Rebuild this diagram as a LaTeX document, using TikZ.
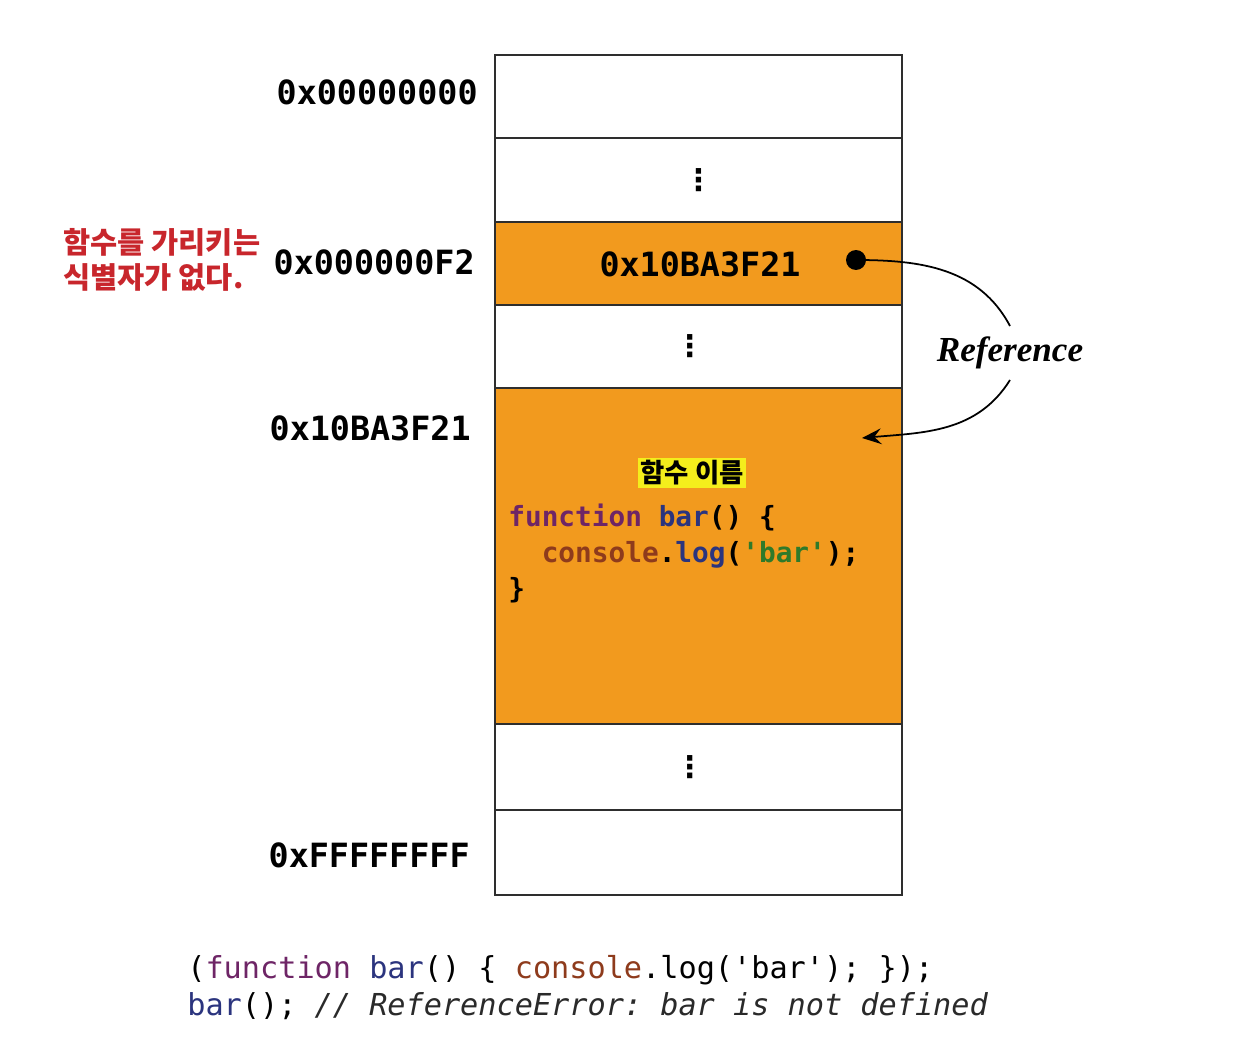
\documentclass[tikz,border=0pt]{standalone}
\usepackage{fontspec}
\setmonofont{DejaVu Sans Mono}
\newfontfamily\krfont{Noto Sans CJK KR}
\newfontfamily\reffont{Liberation Serif}
\newfontfamily\symfont{DejaVu Sans}
\usetikzlibrary{arrows.meta}
\definecolor{MemOrange}{HTML}{F29A1E}
\definecolor{MemLine}{HTML}{2E2E2E}
\definecolor{NoteRed}{HTML}{C8262C}
\definecolor{HiYellow}{HTML}{F4EE1C}
\definecolor{KwPurple}{HTML}{6E2566}
\definecolor{IdBlue}{HTML}{2B347E}
\definecolor{ObjBrown}{HTML}{8E3B1C}
\definecolor{StrGreen}{HTML}{2F7A2A}
\definecolor{CmtGray}{HTML}{2A2A2A}
\newcommand{\celldots}{{\symfont\bfseries\fontsize{17}{17}\selectfont ⋮}}
\begin{document}
\begin{tikzpicture}[x=0.02cm,y=-0.02cm,
    cell/.style={draw=MemLine,line width=1.3pt,minimum width=8.14cm,inner sep=0pt},
    addr/.style={anchor=east,inner sep=0pt,font=\ttfamily\bfseries\fontsize{19}{20}\selectfont},
    code/.style={font=\ttfamily\fontsize{17.2}{20}\selectfont,anchor=west,inner sep=0pt}]
  \useasboundingbox[fill=white] (0,0) rectangle (1238,1054);
  % memory cells
  \node[cell,minimum height=1.66cm] (r1) at (698.5,96.5) {};
  \node[cell,minimum height=1.68cm] (r2) at (698.5,180) {\celldots};
  \node[cell,fill=MemOrange,minimum height=1.66cm] (r3) at (698.5,263.5) {};
  \node[cell,minimum height=1.66cm] (r4) at (698.5,346.5) {\hspace*{-10pt}\celldots};
  \node[cell,fill=MemOrange,minimum height=6.72cm] (r5) at (698.5,556) {};
  \node[cell,minimum height=1.72cm] (r6) at (698.5,767) {\hspace*{-10pt}\celldots};
  \node[cell,minimum height=1.70cm] (r7) at (698.5,852.5) {};
  % addresses
  \node[addr] (a1) at (478,92) {0x00000000};
  \node[addr] (a3) at (475,262) {0x000000F2};
  \node[addr] (a5) at (471,428) {0x10BA3F21};
  \node[addr] (a7) at (470,855) {0xFFFFFFFF};
  \node[font=\krfont\bfseries\fontsize{16.8}{19.5}\selectfont,text=NoteRed,align=left,anchor=west,inner sep=0pt] (note) at (63,260) {함수를 가리키는\\식별자가 없다.};
  % pointer
  \node[font=\ttfamily\bfseries\fontsize{19}{20}\selectfont] (val) at (700,264) {0x10BA3F21};
  \node[circle,fill=black,inner sep=0pt,minimum size=0.4cm] (ptrdot) at (856,260) {};
  \node[font=\reffont\bfseries\itshape\fontsize{20}{22}\selectfont,inner sep=6pt] (reflbl) at (1010,353) {Reference};
  \coordinate (fnentry) at (862,438);
  \draw[line width=1pt] (ptrdot.center) to[out=0,in=118] (reflbl.north);
  \draw[line width=1pt,-{Stealth[length=11pt,width=9pt,inset=4pt]}] (reflbl.south) to[out=238,in=5] (fnentry);
  % function object
  \node[font=\krfont\bfseries\fontsize{15}{17}\selectfont,fill=HiYellow,inner sep=1.5pt] (fname) at (692,473) {함수 이름};
  \node[code,font=\ttfamily\bfseries\fontsize{15.8}{20.4}\selectfont,align=left,anchor=north west] (body) at (508,504)
    {\textcolor{KwPurple}{function} \textcolor{IdBlue}{bar}() \{\\
     ~~\textcolor{ObjBrown}{console}.\textcolor{IdBlue}{log}(\textcolor{StrGreen}{'bar'});\\
     \}};
  % source code
  \node[code] (src1) at (187,970) {(\textcolor{KwPurple}{function} \textcolor{IdBlue}{bar}() \{ \textcolor{ObjBrown}{console}.log('bar'); \});};
  \node[code] (src2) at (187,1006) {\textcolor{IdBlue}{bar}(); \textcolor{CmtGray}{\itshape // ReferenceError: bar is not defined}};
\end{tikzpicture}
\end{document}
